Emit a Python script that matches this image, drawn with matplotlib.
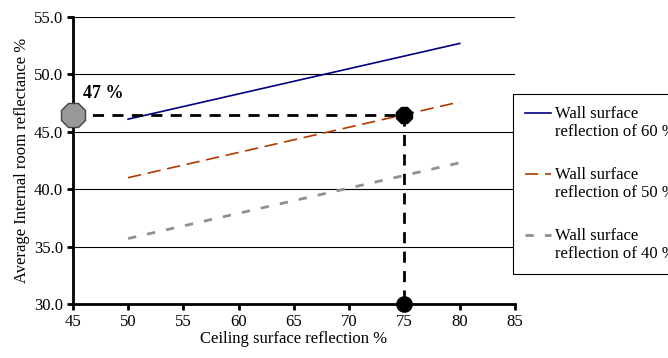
import matplotlib.pyplot as plt
from matplotlib.legend_handler import HandlerLine2D

plt.rcParams['font.family'] = ['Liberation Serif', 'DejaVu Serif']

ceiling = [50, 60, 70, 80]
wall60 = [46.1, 48.3, 50.5, 52.7]
wall50 = [41.0, 43.2, 45.4, 47.6]
wall40 = [35.7, 37.9, 40.1, 42.3]
labels = ["Wall surface\nreflection of 60 %",
          "Wall surface\nreflection of 50 %",
          "Wall surface\nreflection of 40 %"]

pick_x = 75
pick_y = 46.5
x_min, x_max = 45, 85
y_min, y_max = 30, 55


class TopLineHandler(HandlerLine2D):
    # put the legend sample next to the first text line
    def create_artists(self, legend, orig_handle, xdescent, ydescent, width,
                       height, fontsize, trans):
        arts = super().create_artists(legend, orig_handle, xdescent, ydescent,
                                      width, height, fontsize, trans)
        for a in arts:
            a.set_ydata([y + 0.6 * fontsize for y in a.get_ydata()])
        return arts


fig = plt.figure(figsize=(6.68, 3.58), dpi=100)
ax = fig.add_axes([0.109, 0.151, 0.662, 0.8015])

ax.plot(ceiling, wall60, color="#000080", lw=1.2, label=labels[0])
ax.plot(ceiling, wall50, color="#b03a00", lw=1.2, dashes=(8, 4), label=labels[1])
ax.plot(ceiling, wall40, color="#909090", lw=2, dashes=(3, 4), label=labels[2])

# reading guide lines
ax.plot([x_min, pick_x], [pick_y, pick_y], color="black", lw=2, dashes=(4, 3), zorder=4)
ax.plot([pick_x, pick_x], [pick_y, y_min], color="black", lw=2, dashes=(4, 3), zorder=4)
ax.plot([x_min], [pick_y], marker="8", ms=18, mfc="#999999", mec="#444444",
        clip_on=False, zorder=6)
ax.plot([pick_x], [pick_y], marker="8", ms=12, color="black", clip_on=False, zorder=6)
ax.plot([pick_x], [y_min], marker="o", ms=11, color="black", clip_on=False, zorder=6)
ax.text(47.8, 48.3, "47 %", fontsize=13, fontweight="bold", ha="center", va="center")

ax.set_xlim(x_min, x_max)
ax.set_ylim(y_min, y_max)
ax.set_xticks(range(45, 86, 5))
ax.set_yticks([30, 35, 40, 45, 50, 55])
ax.set_yticklabels(["%.1f" % v for v in [30, 35, 40, 45, 50, 55]])
for v in [35, 40, 45, 50, 55]:
    ax.axhline(v, color="black", lw=0.8, zorder=1)

for s in ["top", "right"]:
    ax.spines[s].set_visible(False)
for s in ["left", "bottom"]:
    ax.spines[s].set_linewidth(2)
ax.tick_params(direction="out", length=4, width=2, labelsize=12, pad=3)

ax.set_xlabel("Ceiling surface reflection %", fontsize=12, labelpad=1)
ax.set_ylabel("Average Internal room reflectance %", fontsize=12, labelpad=3)

leg = fig.legend(loc="upper left", bbox_to_anchor=(0.768, 0.737), fontsize=12,
                 frameon=True, fancybox=False, edgecolor="black", framealpha=1,
                 handlelength=1.6, labelspacing=1.6, borderpad=0.7, handletextpad=0.2,
                 borderaxespad=0, handler_map={plt.Line2D: TopLineHandler()})
leg.get_frame().set_linewidth(0.8)

fig.savefig("out.png", dpi=100)
